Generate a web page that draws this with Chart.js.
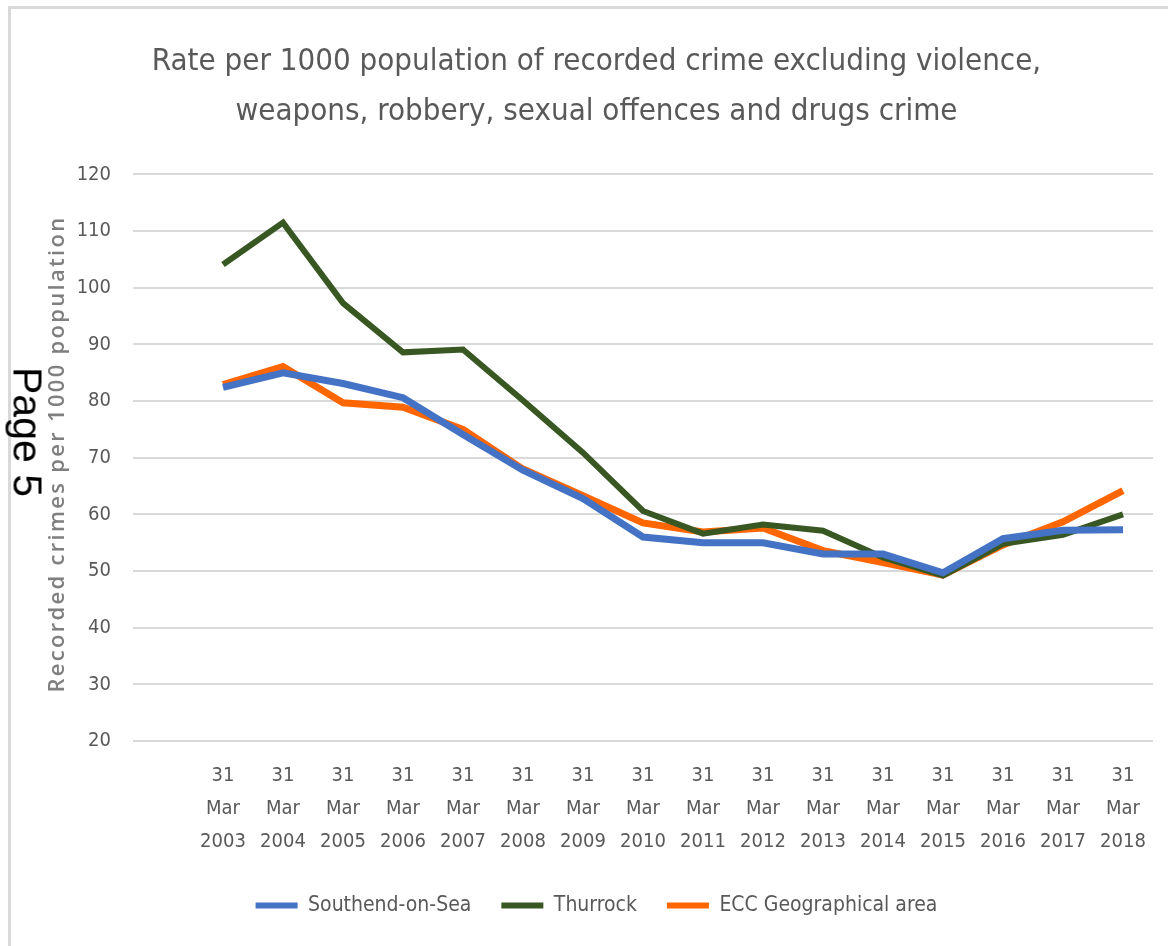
<!DOCTYPE html>
<html>
<head>
<meta charset="utf-8">
<script src="https://cdn.jsdelivr.net/npm/chart.js@4"></script>
<style>
  html, body { margin: 0; padding: 0; background: #fff; }
  #wrap { position: relative; width: 1168px; height: 946px; overflow: hidden; }
  #c { position: absolute; left: 0; top: 0; }
  .frameTop { position: absolute; left: 8px; top: 6px; width: 1160px; height: 3px; background: #d9d9d9; }
  .frameLeft { position: absolute; left: 8px; top: 6px; width: 3px; height: 940px; background: #d9d9d9; }
  #page { position: absolute; left: 27px; top: 432px; transform: translate(-50%, -50%) rotate(90deg);
          font-family: "Liberation Sans", Arial, sans-serif; font-size: 41px; color: #000; white-space: nowrap; }
</style>
</head>
<body>
<div id="wrap">
  <div class="frameTop"></div>
  <div class="frameLeft"></div>
  <canvas id="c" width="1168" height="946"></canvas>
  <div id="page">Page 5</div>
</div>
<script>
const categories = ['2003','2004','2005','2006','2007','2008','2009','2010','2011','2012','2013','2014','2015','2016','2017','2018'];
const southend = [82.4, 85.0, 83.1, 80.6, 74.1, 67.8, 62.8, 56.0, 55.0, 55.0, 53.0, 53.0, 49.7, 55.7, 57.2, 57.3];
const thurrock = [104.1, 111.5, 97.3, 88.6, 89.1, 80.1, 70.9, 60.6, 56.6, 58.2, 57.1, 52.4, 49.2, 54.8, 56.4, 60.0];
const ecc = [82.9, 86.1, 79.7, 78.9, 75.0, 68.0, 63.3, 58.5, 56.9, 57.6, 53.6, 51.5, 49.3, 54.6, 58.7, 64.2];
const yTicks = [20, 30, 40, 50, 60, 70, 80, 90, 100, 110, 120];
const yTitle = 'Recorded crimes per 1000 population';

const labels = [''].concat(categories.map(y => ['31', 'Mar', y]));
const pad = arr => [null].concat(arr);

const FONT = "'DejaVu Sans Condensed', 'DejaVu Sans', sans-serif";
const GREY = '#595959';

const yTitlePlugin = {
  id: 'yTitlePlugin',
  afterDraw(chart) {
    const ctx = chart.ctx;
    ctx.save();
    ctx.translate(58, 454);
    ctx.rotate(-Math.PI / 2);
    ctx.font = "600 22px 'Open Sans', sans-serif";
    if ('letterSpacing' in ctx) ctx.letterSpacing = '2.3px';
    ctx.fillStyle = '#7f7f7f';
    ctx.textAlign = 'center';
    ctx.textBaseline = 'middle';
    ctx.fillText(yTitle, 0, 0);
    ctx.restore();
  }
};

new Chart(document.getElementById('c'), {
  type: 'line',
  data: {
    labels: labels,
    datasets: [
      { label: 'Southend-on-Sea', data: pad(southend), borderColor: '#4472C4', backgroundColor: '#4472C4', borderWidth: 7, pointRadius: 0, tension: 0 },
      { label: 'Thurrock', data: pad(thurrock), borderColor: '#385723', backgroundColor: '#385723', borderWidth: 6, pointRadius: 0, tension: 0 },
      { label: 'ECC Geographical area', data: pad(ecc), borderColor: '#FF6600', backgroundColor: '#FF6600', borderWidth: 7, pointRadius: 0, tension: 0 }
    ]
  },
  plugins: [yTitlePlugin],
  options: {
    responsive: false,
    animation: false,
    devicePixelRatio: 1,
    layout: { padding: { left: 40, right: 15, top: 0, bottom: 20 } },
    plugins: {
      title: {
        display: true,
        text: ['Rate per 1000 population of recorded crime excluding violence,', 'weapons, robbery, sexual offences and drugs crime'],
        color: GREY,
        font: { family: FONT, size: 31, weight: 'normal', lineHeight: 1.62 },
        padding: { top: 37, bottom: 37 }
      },
      legend: {
        position: 'bottom',
        labels: {
          color: GREY,
          font: { family: FONT, size: 21 },
          boxWidth: 42,
          boxHeight: 6,
          padding: 30,
          generateLabels: chart => chart.data.datasets.map((ds, i) => ({
            text: ds.label, fillStyle: ds.borderColor, strokeStyle: ds.borderColor, lineWidth: 0,
            hidden: false, datasetIndex: i, fontColor: GREY
          }))
        }
      },
      tooltip: { enabled: false }
    },
    scales: {
      x: {
        type: 'category',
        offset: true,
        grid: { display: false, drawTicks: false },
        border: { display: false },
        ticks: { color: GREY, font: { family: FONT, size: 20, lineHeight: 1.65 }, maxRotation: 0, autoSkip: false, padding: 18 },
        afterFit: s => { s.height = 124; }
      },
      y: {
        min: 20,
        max: 120,
        afterBuildTicks: s => { s.ticks = yTicks.map(v => ({ value: v })); },
        grid: { color: '#d9d9d9', lineWidth: 2, drawTicks: false },
        border: { display: false },
        ticks: { color: GREY, font: { family: FONT, size: 20 }, padding: 22 },
        title: { display: false },
        afterFit: s => { s.width = 93; }
      }
    }
  }
});
</script>
</body>
</html>
